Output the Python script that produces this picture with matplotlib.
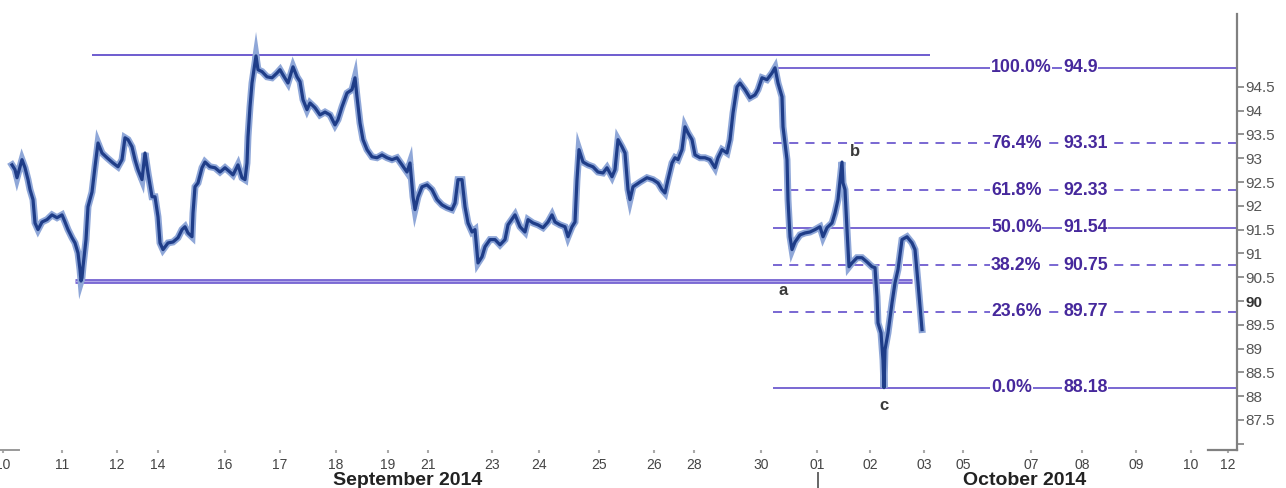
import matplotlib
matplotlib.use("Agg")
import matplotlib.pyplot as plt
import matplotlib.transforms as mtransforms

plt.rcParams['font.family'] = ['Liberation Sans', 'DejaVu Sans']

# ---- data (bar index, price) ----
t = [0, 0.6, 1.0, 2.0, 2.6, 3.2, 3.6, 4.2, 4.6, 5.2, 6.0, 7.0, 8.0, 9.0, 10.0, 10.6, 11.2, 12.0, 12.6, 13.2,
     13.6, 13.8, 14.0, 14.2, 14.8, 15.2, 16.0, 16.6, 17.2, 18.0, 19.0, 20.2, 21.2, 22.0, 22.6, 23.2, 24.0, 24.6,
     25.2, 26.0, 26.6, 27.2, 28.0, 28.6, 29.2, 29.6, 30.2, 31.2, 32.2, 33.2, 34.0, 34.6, 35.2, 36.0, 36.2, 36.6,
     37.2, 38.0, 38.6, 39.6, 40.6, 41.6, 42.6, 43.6, 44.2, 45.2, 46.0, 46.6, 47.0, 47.2, 47.6, 48.0, 48.6, 48.8,
     49.2, 50.0, 51.0, 52.0, 53.0, 53.6, 54.2, 55.2, 56.2, 57.0, 57.6, 58.2, 59.0, 59.6, 60.6, 61.6, 62.6, 63.6,
     64.6, 65.2, 66.0, 67.0, 68.0, 68.6, 69.0, 69.6, 70.2, 71.0, 72.0, 73.0, 74.0, 75.0, 76.0, 77.0, 78.0, 79.0,
     79.6, 80.2, 80.6, 81.2, 82.0, 83.0, 84.0, 85.0, 86.0, 87.0, 88.0, 88.6, 89.2, 90.0, 90.6, 91.2, 92.0, 92.6,
     93.2, 94.0, 94.6, 95.6, 96.6, 97.6, 98.6, 99.2, 100.6, 101.6, 102.6, 103.2, 104.2, 105.2, 106.2, 107.2,
     108.0, 108.6, 109.6, 110.6, 111.2, 112.0, 112.6, 113.0, 113.4, 114.2, 115.2, 116.2, 117.2, 118.2, 119.0,
     120.0, 120.6, 121.2, 122.0, 122.6, 123.2, 123.6, 124.2, 125.6, 127.0, 128.2, 129.2, 130.0, 130.6, 131.2,
     132.0, 132.6, 133.2, 134.0, 134.6, 135.2, 136.0, 136.6, 137.6, 138.6, 139.6, 140.6, 141.2, 142.0, 143.0,
     143.6, 144.2, 145.0, 145.6, 146.6, 147.6, 148.6, 149.2, 150.0, 151.0, 152.0, 152.6, 153.2, 154.0, 154.2,
     155.0, 155.2, 155.6, 156.0, 156.6, 157.6, 158.6, 159.6, 160.6, 161.6, 162.2, 163.0, 164.0, 164.6, 165.2,
     166.0, 166.2, 166.6, 167.0, 167.4, 168.0, 169.0, 170.0, 171.0, 172.0, 172.6, 173.0, 173.2, 173.8, 174.2,
     174.4, 174.6, 175.2, 176.0, 176.6, 177.2, 178.0, 179.0, 180.0, 180.6, 181.2, 182.0]
price = [92.86, 92.76, 92.59, 92.97, 92.80, 92.55, 92.34, 92.13, 91.64, 91.50, 91.66, 91.71, 91.81, 91.75, 91.81,
         91.66, 91.50, 91.33, 91.22, 91.01, 90.66, 90.42, 90.49, 90.72, 91.29, 91.98, 92.29, 92.82, 93.32, 93.11,
         93.01, 92.90, 92.82, 92.97, 93.43, 93.39, 93.24, 92.97, 92.76, 92.55, 93.11, 92.69, 92.19, 92.19, 91.77,
         91.22, 91.08, 91.22, 91.24, 91.33, 91.50, 91.56, 91.43, 91.35, 91.85, 92.40, 92.48, 92.80, 92.92, 92.82,
         92.80, 92.71, 92.80, 92.71, 92.65, 92.86, 92.59, 92.55, 92.90, 93.45, 94.08, 94.58, 95.00, 95.15, 94.86,
         94.82, 94.71, 94.69, 94.79, 94.86, 94.75, 94.58, 94.92, 94.71, 94.61, 94.23, 94.02, 94.16, 94.06, 93.91,
         93.97, 93.91, 93.70, 93.81, 94.08, 94.37, 94.44, 94.69, 94.29, 93.74, 93.39, 93.18, 93.03, 93.01, 93.07,
         93.01, 92.97, 93.01, 92.86, 92.71, 92.90, 92.19, 91.92, 92.19, 92.40, 92.44, 92.34, 92.13, 92.02, 91.96,
         91.92, 92.06, 92.55, 92.55, 91.98, 91.64, 91.45, 91.50, 90.80, 90.93, 91.14, 91.29, 91.29, 91.18, 91.29,
         91.60, 91.81, 91.56, 91.45, 91.71, 91.64, 91.60, 91.54, 91.66, 91.81, 91.66, 91.60, 91.56, 91.35, 91.56,
         91.66, 92.55, 93.18, 92.92, 92.86, 92.82, 92.71, 92.69, 92.80, 92.61, 92.76, 93.39, 93.24, 93.11, 92.34,
         92.13, 92.40, 92.50, 92.59, 92.55, 92.48, 92.34, 92.27, 92.55, 92.90, 93.01, 92.97, 93.18, 93.66, 93.53,
         93.39, 93.07, 93.01, 93.01, 92.97, 92.80, 93.01, 93.18, 93.11, 93.39, 93.95, 94.50, 94.58, 94.44, 94.27,
         94.33, 94.44, 94.69, 94.65, 94.79, 94.90, 94.58, 94.29, 93.66, 92.97, 92.13, 91.35, 91.08, 91.24, 91.39,
         91.43, 91.45, 91.50, 91.56, 91.35, 91.54, 91.64, 91.85, 92.13, 92.92, 92.48, 92.34, 91.50, 90.72, 90.80,
         90.91, 90.91, 90.82, 90.72, 90.70, 90.09, 89.54, 89.33, 88.76, 88.18, 88.98, 89.33, 89.96, 90.38, 90.66,
         91.29, 91.35, 91.22, 91.08, 90.38, 89.40]

tick_pos = [-1.8, 10.0, 21.0, 29.2, 42.6, 53.6, 64.8, 75.2, 83.2, 96.0, 105.4, 117.4, 128.4, 136.4, 149.8,
            161.0, 171.6, 182.4, 190.2, 203.8, 214.0, 224.8, 235.8, 243.2]
tick_lab = ['10', '11', '12', '14', '16', '17', '18', '19', '21', '23', '24', '25', '26', '28', '30',
            '01', '02', '03', '05', '07', '08', '09', '10', '12']
months = ['September 2014', 'October 2014']
month_pos = [79.2, 202.6]
month_sep = 161.2

y_ticks = [87, 87.5, 88, 88.5, 89, 89.5, 90, 90.5, 91, 91.5, 92, 92.5, 93, 93.5, 94, 94.5]

fib_pct = ['100.0%', '76.4%', '61.8%', '50.0%', '38.2%', '23.6%', '0.0%']
fib_val = [94.9, 93.31, 92.33, 91.54, 90.75, 89.77, 88.18]
fib_dashed = [False, True, True, False, True, True, False]
fib_start = 152.2
resist_level, resist_span = 95.17, (16.0, 183.6)
support_level, support_span = 90.42, (12.6, 180.0)

waves = ['a', 'b', 'c']
wave_t = [154.2, 168.6, 174.4]
wave_p = [90.22, 93.15, 87.80]

# ---- figure ----
fig = plt.figure(figsize=(12.86, 4.88), dpi=100)
ax = fig.add_axes([0.0, 0.0779, 1237/1286, 0.8934])
ax.set_xlim(-2.4, 245.0)
ax.set_ylim(86.87, 96.03)

LINE = '#6e5ccf'
TXT = '#46289c'

ax.plot(t, price, color='#8fa7d8', lw=5.0, solid_joinstyle='miter', zorder=3)
ax.plot(t, price, color='#1f3d88', lw=2.3, zorder=4)

ax.hlines(resist_level, *resist_span, color=LINE, lw=1.4, zorder=2)
ax.hlines(support_level, *support_span, color=LINE, lw=3.4, zorder=2)
ax.hlines(support_level, *support_span, color='#b2a8ea', lw=1.0, zorder=2)

for pct, val, dsh in zip(fib_pct, fib_val, fib_dashed):
    ax.hlines(val, fib_start, 245.0, color=LINE, lw=1.3,
              linestyles=(0, (5, 4)) if dsh else 'solid', zorder=2)
    ax.text(195.8, val, pct, ha='left', va='center', fontsize=12.8, fontweight='bold', color=TXT,
            bbox=dict(facecolor='white', edgecolor='none', pad=0.5), zorder=5)
    ax.text(210.2, val, f'{val:g}', ha='left', va='center', fontsize=12.8, fontweight='bold', color=TXT,
            bbox=dict(facecolor='white', edgecolor='none', pad=0.5), zorder=5)

for w, wt, wp in zip(waves, wave_t, wave_p):
    ax.text(wt, wp, w, ha='center', va='center', fontsize=12, fontweight='bold', color='#3a3a3a', zorder=6)

# axes styling
for s in ['top', 'left', 'bottom']:
    ax.spines[s].set_visible(False)
ax.spines['right'].set_color('#808080')
ax.spines['right'].set_linewidth(1.6)
ax.yaxis.tick_right()
ax.set_yticks(y_ticks)
ax.set_yticklabels(['' if v == 87 else f'{v:g}' for v in y_ticks])
ax.tick_params(axis='y', direction='out', length=5, width=1.2, color='#808080', pad=1,
               labelsize=11, labelcolor='#555555')
for lab in ax.get_yticklabels():
    if lab.get_text() == '90':
        lab.set_fontweight('bold')
        lab.set_color('#333333')

ax.set_xticks(tick_pos)
ax.set_xticklabels(tick_lab)
ax.tick_params(axis='x', direction='out', length=2.5, width=1.5, color='#aaaaaa', pad=3,
               labelsize=10, labelcolor='#444444')

trans = mtransforms.blended_transform_factory(ax.transData, ax.transAxes)
for m, mp in zip(months, month_pos):
    ax.text(mp, -0.071, m, transform=trans, ha='center', va='center', fontsize=14,
            fontweight='bold', color='#222222')
ax.plot([month_sep, month_sep], [-0.053, -0.09], transform=trans, color='#666666', lw=1.4, clip_on=False)
# short bottom-axis stubs at the ends
ax.plot([-2.4, 1.4], [0, 0], transform=trans, color='#999999', lw=1.4, clip_on=False)
ax.plot([239.2, 245.0], [0, 0], transform=trans, color='#808080', lw=1.6, clip_on=False)

fig.savefig('out.png', dpi=100)
